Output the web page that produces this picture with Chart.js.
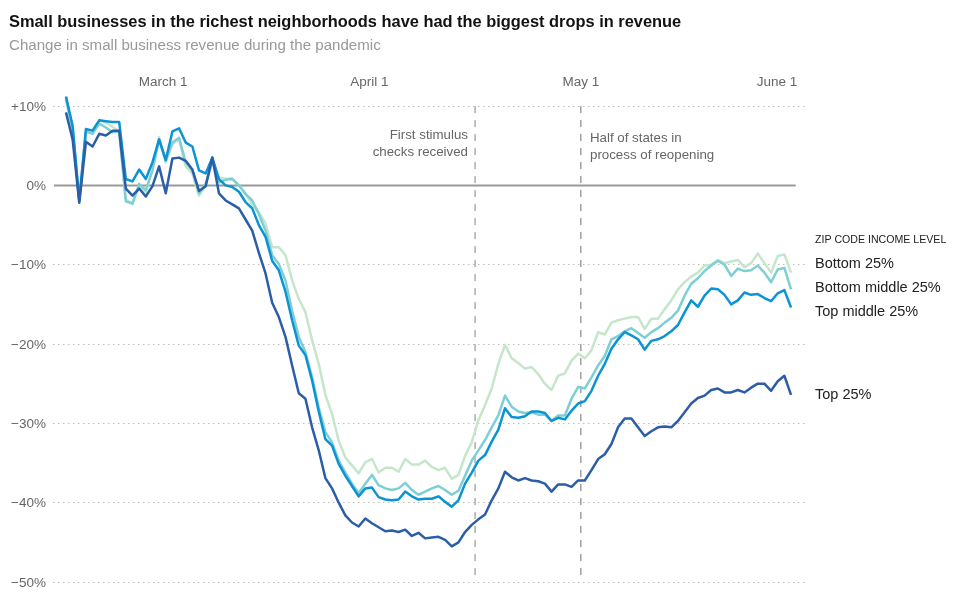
<!DOCTYPE html>
<html>
<head>
<meta charset="utf-8">
<style>
  html, body { margin: 0; padding: 0; background: #fff; }
  canvas { display: block; }
</style>
<script src="https://cdn.jsdelivr.net/npm/chart.js@4"></script>
</head>
<body>
<canvas id="revenueChart" width="954" height="605"></canvas>
<script>
const titleText = 'Small businesses in the richest neighborhoods have had the biggest drops in revenue';
const subtitleText = 'Change in small business revenue during the pandemic';

const seriesNames = ['Top 25%', 'Top middle 25%', 'Bottom middle 25%', 'Bottom 25%'];

const top25 = [
  9.2,5.8,-2.2,5.5,4.9,6.5,6.3,6.9,6.9,-0.4,
  -1.3,-0.4,-1.4,-0.1,2.4,-1.0,3.4,3.5,3.1,2.0,
  -0.7,-0.1,3.5,-1.0,-1.9,-2.4,-2.9,-4.3,-5.7,-8.5,
  -11.1,-14.8,-16.6,-19.1,-22.7,-26.2,-26.9,-30.5,-33.4,-36.9,
  -38.2,-40,-41.6,-42.5,-43,-42,-42.6,-43.1,-43.6,-43.5,
  -43.7,-43.4,-44.2,-43.8,-44.5,-44.4,-44.3,-44.7,-45.5,-45,
  -43.7,-42.8,-42.1,-41.5,-39.7,-38.2,-36.1,-36.8,-37.2,-36.9,
  -37.2,-37.3,-37.6,-38.6,-37.7,-37.7,-38,-37.2,-37.2,-35.9,
  -34.5,-33.9,-32.6,-30.5,-29.4,-29.4,-30.5,-31.6,-31,-30.5,
  -30.4,-30.5,-29.7,-28.6,-27.5,-26.8,-26.5,-25.8,-25.6,-26.1,
  -26.1,-25.8,-26.1,-25.5,-25,-25,-25.9,-24.7,-24,-26.4
];
const topMiddle = [
  11.2,7.5,-1.9,7.1,6.9,8.2,8.1,8,8,0.8,
  0.5,2,0.8,2.9,5.8,3.2,6.8,7.2,5.4,4.9,
  1.9,1.5,3.5,0.8,0,-0.2,-0.8,-2.1,-2.9,-5,
  -6.5,-9.5,-10.7,-13.4,-17,-20.2,-21.4,-24.6,-28.5,-32,
  -32.8,-35.1,-36.6,-37.9,-39.2,-38.2,-38.1,-39.3,-39.6,-39.7,
  -39.6,-38.6,-39.2,-39.6,-39.5,-39.5,-39.2,-39.9,-40.5,-39.7,
  -37.6,-36.2,-34.7,-34,-32.3,-30.8,-28.1,-29.2,-29.3,-29.1,
  -28.5,-28.5,-28.7,-29.7,-29.3,-29.5,-28.4,-27.5,-27.2,-25.9,
  -24,-22.5,-20.6,-19.4,-18.5,-18.9,-19.4,-20.7,-19.6,-19.4,
  -19,-18.4,-17.6,-16,-14.5,-15.3,-13.9,-13,-13.1,-13.8,
  -15,-14.5,-13.5,-13.8,-13.7,-14.2,-14.6,-13.6,-13.2,-15.4
];
const bottomMiddle = [
  11,7.2,-1.9,6.8,6.5,7.8,7.3,6.7,6.8,-2,
  -2.3,0.2,-0.6,1.9,5.8,3.1,5.4,6,2.9,1.9,
  -1,0.2,3.1,0.4,0.7,0.8,0,-1.1,-1.9,-3.6,
  -5.7,-8.8,-9.9,-12,-15.8,-19.1,-21,-24.2,-28,-31.1,
  -32.4,-34.7,-36.2,-37.6,-38.8,-37.6,-36.5,-37.8,-38.2,-38.4,
  -38.2,-37.5,-38.4,-39,-38.6,-38.2,-37.9,-38.4,-39,-38.5,
  -36.6,-34.7,-33.4,-32.1,-30.5,-29,-26.5,-27.9,-28.5,-28.7,
  -28.6,-28.9,-28.9,-29.7,-29,-29,-26.9,-25.4,-25.6,-24.2,
  -22.7,-21.5,-19.4,-19,-18.4,-18,-18.6,-19.2,-18.5,-18,
  -17.3,-16.7,-15.8,-13.9,-12.4,-11.7,-10.8,-10.1,-9.5,-10,
  -11.4,-10.5,-10.8,-10.7,-10.1,-11,-12.2,-10.6,-10.4,-13.1
];
const bottom25 = [
  10.8,6.8,-2,6.6,6.9,8.2,7.9,7.4,6.8,-1.8,
  -2.3,-0.1,-0.9,2,6.1,2.9,5.2,5.8,2.4,1.5,
  -1.3,0,3,1,0.8,0.9,0,-1,-2.5,-3.4,
  -4.8,-7.8,-7.8,-8.8,-12,-14.3,-16,-19.5,-22.5,-26.4,
  -28.8,-32.2,-34.3,-35.3,-36.3,-34.9,-34.5,-36.2,-35.6,-35.6,
  -36.1,-34.5,-35.2,-35.2,-34.7,-35.5,-35.9,-35.6,-37,-36.5,
  -34.1,-32.4,-29.6,-27.7,-25.6,-22.5,-20.1,-21.8,-22.4,-23.1,
  -22.9,-23.8,-25,-25.8,-24,-23.7,-22.1,-21.2,-21.8,-20.8,
  -18.5,-18.8,-17.3,-17,-16.8,-16.6,-16.6,-18.1,-16.8,-16.8,
  -15.6,-14.5,-13.1,-12.2,-11.5,-11,-10.1,-10,-9.4,-9.8,
  -9.6,-9.4,-10.3,-9.8,-8.6,-9.8,-11,-8.9,-8.7,-11
];

const xTickValues = [14.6, 45.6, 77.4, 106.9];
const xTickLabels = ['March 1', 'April 1', 'May 1', 'June 1'];
const yTickValues = [10, 0, -10, -20, -30, -40, -50];
const yTickLabels = ['+10%', '0%', '\u221210%', '\u221220%', '\u221230%', '\u221240%', '\u221250%'];

const stimulusDay = 61.5;
const reopeningDay = 77.4;

function toPoints(values) {
  return values.map((v, i) => ({ x: i, y: v }));
}

function seriesLine(label, values, color) {
  return {
    label: label,
    data: toPoints(values),
    borderColor: color,
    borderWidth: 2.5,
    pointRadius: 0,
    tension: 0,
    borderJoinStyle: 'round'
  };
}

function refLine(x, color) {
  return {
    data: [{ x: x, y: 10 }, { x: x, y: -50 }],
    borderColor: color,
    borderWidth: 1.2,
    borderDash: [7, 7],
    pointRadius: 0
  };
}

// notes and end labels sit beside the lines
const sideLabels = {
  id: 'sideLabels',
  afterDatasetsDraw(chart) {
    const ctx = chart.ctx;
    ctx.save();
    ctx.textBaseline = 'middle';
    ctx.fillStyle = '#666';
    ctx.font = '13.3px "Liberation Sans"';
    ctx.textAlign = 'right';
    ctx.fillText('First stimulus', 468, 135.5);
    ctx.fillText('checks received', 468, 152);
    ctx.textAlign = 'left';
    ctx.fillText('Half of states in', 590, 138);
    ctx.fillText('process of reopening', 590, 155);

    ctx.fillStyle = '#222';
    ctx.font = '10.6px "Liberation Sans"';
    ctx.fillText('ZIP CODE INCOME LEVEL', 815, 240);
    ctx.font = '14.5px "Liberation Sans"';
    ctx.fillText(seriesNames[3], 815, 264);
    ctx.fillText(seriesNames[2], 815, 288);
    ctx.fillText(seriesNames[1], 815, 312);
    ctx.fillText(seriesNames[0], 815, 395);
    ctx.restore();
  }
};

new Chart(document.getElementById('revenueChart'), {
  type: 'line',
  data: {
    datasets: [
      seriesLine(seriesNames[0], top25, '#2b5ea7'),
      seriesLine(seriesNames[1], topMiddle, '#0b93d3'),
      seriesLine(seriesNames[2], bottomMiddle, '#7ccfd5'),
      seriesLine(seriesNames[3], bottom25, '#c6e6cb'),
      {
        data: [{ x: -1.8, y: 0 }, { x: 109.7, y: 0 }],
        borderColor: '#999',
        borderWidth: 2,
        pointRadius: 0
      },
      refLine(stimulusDay, '#999'),
      refLine(reopeningDay, '#888')
    ]
  },
  options: {
    responsive: false,
    animation: false,
    layout: { padding: { left: 9, right: 149, top: 13, bottom: 23 } },
    plugins: {
      legend: { display: false },
      tooltip: { enabled: false },
      title: {
        display: true,
        text: titleText,
        align: 'start',
        color: '#121212',
        font: { family: 'Liberation Sans', size: 16.4, weight: 'bold' },
        padding: { top: 0, bottom: 4 }
      },
      subtitle: {
        display: true,
        text: subtitleText,
        align: 'start',
        color: '#999',
        font: { family: 'Liberation Sans', size: 15.1, weight: 'normal' },
        padding: { top: 0, bottom: 8 }
      }
    },
    scales: {
      x: {
        type: 'linear',
        position: 'top',
        min: -1.95,
        max: 111.1,
        afterBuildTicks(scale) {
          scale.ticks = xTickValues.map(v => ({ value: v }));
        },
        afterFit(scale) {
          scale.height = 27.4;
        },
        grid: { display: false, drawTicks: false },
        border: { display: false },
        ticks: {
          autoSkip: false,
          maxRotation: 0,
          padding: 0,
          color: '#666',
          font: { family: 'Liberation Sans', size: 13.5 },
          callback: value => xTickLabels[xTickValues.indexOf(value)]
        }
      },
      y: {
        type: 'linear',
        min: -50,
        max: 12,
        afterBuildTicks(scale) {
          scale.ticks = yTickValues.map(v => ({ value: v }));
        },
        afterFit(scale) {
          scale.width = 44;
        },
        grid: {
          drawTicks: false,
          lineWidth: 1,
          color: ctx => (ctx.tick && ctx.tick.value === 0 ? 'rgba(0,0,0,0)' : '#bdbdbd')
        },
        border: { display: false, dash: [1.5, 3.5] },
        ticks: {
          autoSkip: false,
          padding: 7,
          labelOffset: 1,
          color: '#666',
          font: { family: 'Liberation Sans', size: 13.5 },
          callback: value => yTickLabels[yTickValues.indexOf(value)]
        }
      }
    }
  },
  plugins: [sideLabels]
});
</script>
</body>
</html>
